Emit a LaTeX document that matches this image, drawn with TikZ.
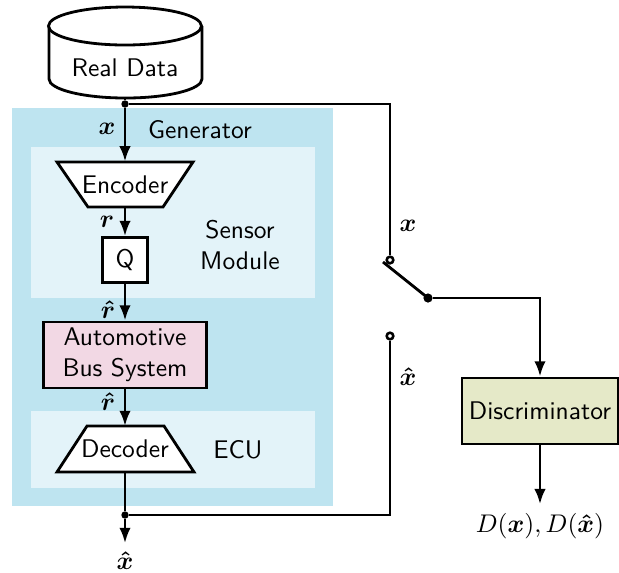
\documentclass[tikz,border=0pt]{standalone}
\usepackage{amsmath,bm}
\usetikzlibrary{arrows.meta}

\definecolor{genblue}{HTML}{BEE4F0}
\definecolor{modblue}{HTML}{E3F3F9}
\definecolor{buspink}{HTML}{F2D8E4}
\definecolor{discgreen}{HTML}{E5E9C8}

\tikzset{
    arr/.style={line width=1.1pt, -{Latex[length=6pt,width=4.5pt]}},
    wire/.style={line width=1.1pt},
    block/.style={draw, line width=1.1pt, font=\sffamily, inner sep=2pt},
    coder/.style={font=\sffamily, inner sep=2pt, minimum width=53.7pt, minimum height=17.6pt},
    contact/.style={draw, line width=1pt, circle, fill=white, inner sep=0pt, minimum size=2.6pt},
    junction/.style={circle, fill=black, inner sep=0pt, minimum size=2.9pt},
    lbl/.style={font=\sffamily, align=center}
}

\begin{document}
\begin{tikzpicture}[x=0.392pt, y=-0.392pt]
    \useasboundingbox (0,0) rectangle (619,572);
    % backgrounds of generator, sensor module and ecu
    \fill[genblue] (12,108) rectangle (333,506);
    \fill[modblue] (31,147) rectangle (315,298);
    \fill[modblue] (31,411) rectangle (315,488);

    % data store, encoder and decoder outlines
    \draw[wire, fill=white] (49,26) -- (49,79) arc (180:0:76.5 and 19) -- (202,26);
    \draw[wire, fill=white] (125,26) ellipse (76.5 and 19);
    \draw[wire, fill=white] (57,162) -- (193,162) -- (163,207) -- (88,207) -- cycle;
    \draw[wire, fill=white] (87,426) -- (164,426) -- (194,472) -- (57,472) -- cycle;

    \node[font=\sffamily, minimum height=23.5pt] (data) at (125,68) {Real Data};
    \node[coder] (enc) at (125,184.5) {Encoder};
    \node[block, minimum size=17.6pt, fill=white] (q) at (125,260) {Q};
    \node[block, align=center, minimum width=63.9pt, minimum height=25.9pt, fill=buspink] (bus) at (125,355) {Automotive\\Bus System};
    \node[coder] (dec) at (125,449) {Decoder};
    \node[block, minimum width=61.2pt, minimum height=25.9pt, fill=discgreen] (disc) at (540,411) {Discriminator};

    \node[lbl] (genlbl) at (200,130) {Generator};
    \node[lbl] (senslbl) at (240,245) {Sensor\\Module};
    \node[lbl] (eculbl) at (238,450) {ECU};
    \node (xlbl) at (107,129) {$\bm{x}$};
    \node (rlbl) at (107,222) {$\bm{r}$};
    \node (rhlbl) at (108,310) {$\bm{\hat{r}}$};
    \node (rhlbl2) at (108,402) {$\bm{\hat{r}}$};
    \node (swxlbl) at (408,226) {$\bm{x}$};
    \node (swxhlbl) at (408,377) {$\bm{\hat{x}}$};
    \node (xhout) at (125,561) {$\bm{\hat{x}}$};
    \node (dout) at (540,526) {$D(\bm{x}), D(\bm{\hat{x}})$};

    % switch
    \node[junction] (split) at (125,104) {};
    \node[junction] (join) at (125,515) {};
    \node[contact] (swx) at (390,260) {};
    \node[contact] (swxh) at (390,336) {};
    \node[junction, minimum size=3.6pt] (pivot) at (428,298) {};
    \coordinate (lever) at (383,262);

    \draw[wire] (data) -- (split);
    \draw[arr] (split) -- (enc);
    \draw[arr] (enc) -- (q);
    \draw[arr] (q) -- (bus);
    \draw[arr] (bus) -- (dec);
    \draw[wire] (dec) -- (join);
    \draw[arr] (join) -- (xhout);
    \draw[wire] (split) -| (swx);
    \draw[wire] (join) -| (swxh);
    \draw[wire] (pivot.center) -- (lever);
    \draw[arr] (pivot) -| (disc);
    \draw[arr] (disc) -- (dout);
\end{tikzpicture}
\end{document}
